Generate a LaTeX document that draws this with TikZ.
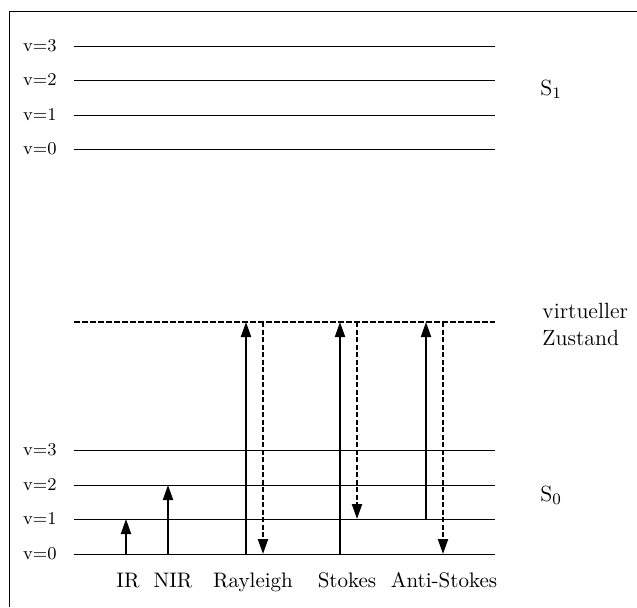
\documentclass[tikz,border=0pt]{standalone}
\usetikzlibrary{arrows.meta}
\begin{document}
\begin{tikzpicture}[x=0.5pt,y=-0.5pt,
  level/.style={line width=0.5pt},
  vlevel/.style={line width=0.9pt,dash pattern=on 2.75pt off 1.25pt},
  uparrow/.style={line width=1pt,-{Triangle[length=7.5pt,width=5pt]}},
  downarrow/.style={uparrow,dash pattern=on 2.5pt off 1.25pt},
  vlab/.style={font=\fontsize{9}{10}\selectfont,anchor=east,inner sep=0pt},
  lab/.style={font=\fontsize{11}{13}\selectfont,inner sep=0pt},
  blab/.style={font=\fontsize{10.5}{12}\selectfont,inner sep=0pt,anchor=base}]
\useasboundingbox (0,0) rectangle (637,607);
\coordinate (fbl) at (9,607);
\coordinate (ftl) at (9,11);
\coordinate (ftr) at (637,11);
\draw[line width=0.5pt] (fbl) -- (ftl) -- (ftr);
% S1 levels
\foreach \n/\y in {3/46,2/80,1/115,0/149}{
  \node[vlab] (s1l\n) at (57,\y) {v=\n};
  \coordinate (s1a\n) at (74,\y);
  \coordinate (s1b\n) at (495,\y);
  \draw[level] (s1a\n) -- (s1b\n);
}
\node[lab,anchor=base west] (S1) at (540,95) {S$_1$};
% virtual state
\coordinate (va) at (74,322);
\coordinate (vb) at (495,322);
\draw[vlevel] (va) -- (vb);
\node[lab,anchor=base west] (virt) at (542,318) {virtueller};
\node[lab,anchor=base west] (zust) at (542,345) {Zustand};
% S0 levels
\foreach \n/\y in {3/450,2/485,1/519,0/554}{
  \node[vlab] (s0l\n) at (57,\y) {v=\n};
  \coordinate (g\n) at (74,\y);
  \coordinate (gb\n) at (495,\y);
  \draw[level] (g\n) -- (gb\n);
}
\node[lab,anchor=base west] (S0) at (540,501) {S$_0$};
% arrow columns
\coordinate (IR) at (126,0);
\coordinate (NIR) at (168,0);
\coordinate (RU) at (246,0);
\coordinate (RD) at (263,0);
\coordinate (SU) at (340,0);
\coordinate (SD) at (357,0);
\coordinate (AU) at (426,0);
\coordinate (AD) at (443,0);
\draw[uparrow] (IR |- g0) -- (IR |- g1);
\draw[uparrow] (NIR |- g0) -- (NIR |- g2);
\draw[uparrow] (RU |- g0) -- (RU |- va);
\draw[downarrow] (RD |- va) -- (RD |- g0);
\draw[uparrow] (SU |- g0) -- (SU |- va);
\draw[downarrow] (SD |- va) -- (SD |- g1);
\draw[uparrow] (AU |- g1) -- (AU |- va);
\draw[downarrow] (AD |- va) -- (AD |- g0);
% bottom labels
\node[blab] (tIR) at (128,587) {IR};
\node[blab] (tNIR) at (173,587) {NIR};
\node[blab] (tRay) at (253,587) {Rayleigh};
\node[blab] (tSto) at (347,587) {Stokes};
\node[blab] (tAnti) at (444,587) {Anti-Stokes};
\end{tikzpicture}
\end{document}
